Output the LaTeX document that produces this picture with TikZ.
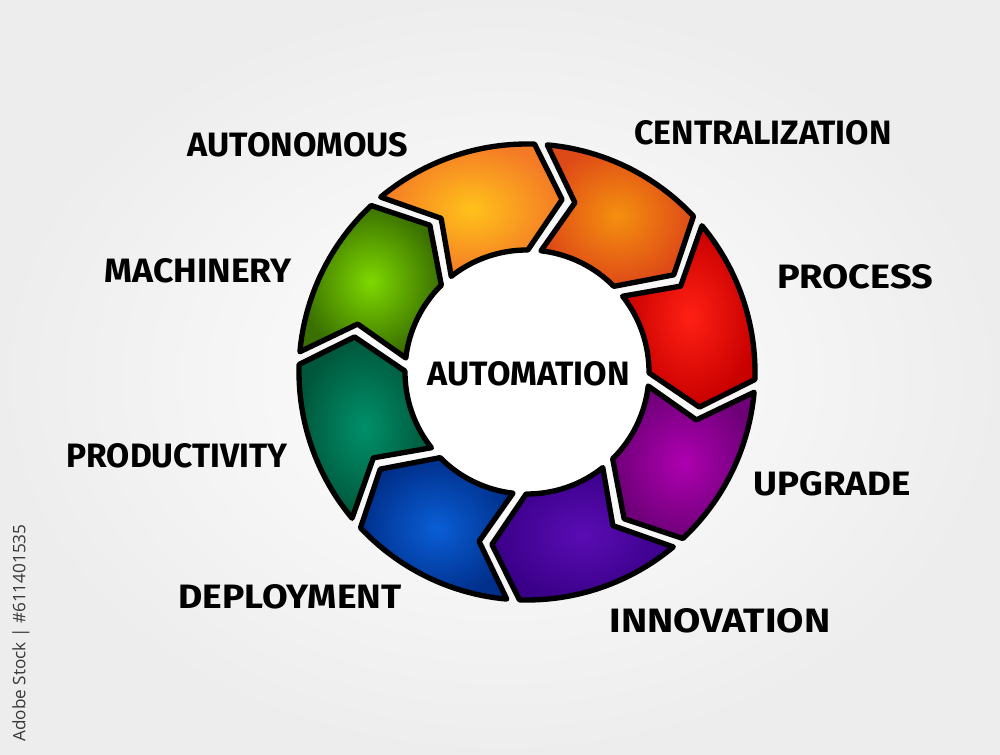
\documentclass[tikz,border=0pt]{standalone}
\usepackage{fontspec}
\setmainfont{Fira Sans}
\newfontfamily\stockfont{Open Sans}
\usepackage{graphicx}

\definecolor{orangeIn}{HTML}{FFC21A}
\definecolor{orangeOut}{HTML}{F47A26}
\definecolor{rustIn}{HTML}{F5900E}
\definecolor{rustOut}{HTML}{DE4A17}
\definecolor{redIn}{HTML}{FF2014}
\definecolor{redOut}{HTML}{C80000}
\definecolor{plumIn}{HTML}{AE00B0}
\definecolor{plumOut}{HTML}{6E0078}
\definecolor{violetIn}{HTML}{5A0CB4}
\definecolor{violetOut}{HTML}{3A0088}
\definecolor{blueIn}{HTML}{0A5ED6}
\definecolor{blueOut}{HTML}{00308C}
\definecolor{tealIn}{HTML}{00906A}
\definecolor{tealOut}{HTML}{00563A}
\definecolor{greenIn}{HTML}{7ED800}
\definecolor{greenOut}{HTML}{3A7000}

\newlength\pxl
\setlength\pxl{0.3mm}
\newcommand\fitword[2]{\resizebox{#1\pxl}{24\pxl}{\bfseries #2}}

\begin{document}
\begin{tikzpicture}[x=0.3mm,y=0.3mm,
  segment/.style={draw=black,line width=1.6mm,line join=round,shading=radial},
  word/.style={inner sep=0pt,anchor=center}]
  \shade[inner color=white,outer color=black!7] (0,0) rectangle (1000,755);
  \useasboundingbox (0,0) rectangle (1000,755);

  \begin{scope}[shift={(527,383)}]
    \fill[white] (0,0) circle[radius=125];
    \foreach \b/\ci/\co in {131.5/orangeIn/orangeOut, 86.5/rustIn/rustOut,
        41.5/redIn/redOut, -3.5/plumIn/plumOut, -48.5/violetIn/violetOut,
        -93.5/blueIn/blueOut, -138.5/tealIn/tealOut, 176.5/greenIn/greenOut}{
      \pgfmathsetmacro\l{\b-45}
      \shadedraw[segment,inner color=\ci,outer color=\co]
        (\b-1.6:228) arc[start angle=\b-1.6,end angle=\l+1.6,radius=228]
        -- (\l-8:176) -- (\l+3.1:122)
        arc[start angle=\l+3.1,end angle=\b-3.1,radius=122]
        -- (\b-12.3:176) -- cycle;
    }
  \end{scope}

  \node[word] (automation) at (529,381) {\fitword{202}{AUTOMATION}};
  \node[word] (autonomous) at (298,610) {\fitword{220}{AUTONOMOUS}};
  \node[word] (centralization) at (763,622) {\fitword{257}{CENTRALIZATION}};
  \node[word] (process) at (855,478) {\fitword{156}{PROCESS}};
  \node[word] (machinery) at (198,484) {\fitword{187}{MACHINERY}};
  \node[word] (productivity) at (177,299) {\fitword{221}{PRODUCTIVITY}};
  \node[word] (upgrade) at (832,271) {\fitword{157}{UPGRADE}};
  \node[word] (deployment) at (290,158) {\fitword{223}{DEPLOYMENT}};
  \node[word] (innovation) at (720,134) {\fitword{221}{INNOVATION}};

  \node[word,rotate=90,text=black!78] (stockid) at (21,122)
    {\resizebox{217\pxl}{!}{\stockfont Adobe Stock | \#611401535}};
\end{tikzpicture}
\end{document}
